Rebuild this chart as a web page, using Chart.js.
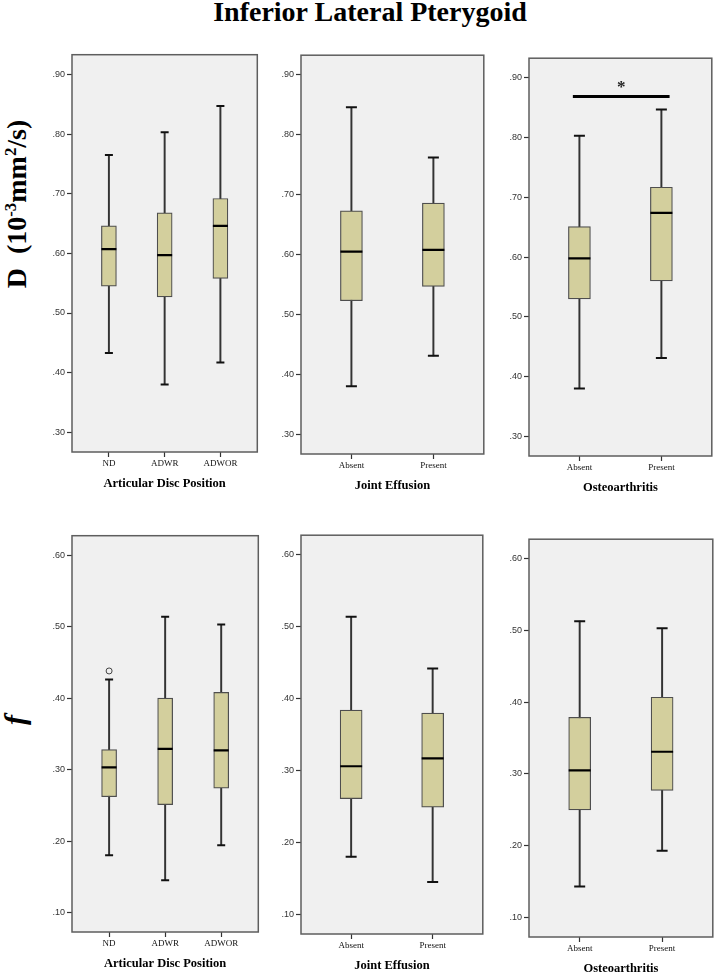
<!DOCTYPE html>
<html>
<head>
<meta charset="utf-8">
<script src="https://cdn.jsdelivr.net/npm/chart.js@4.4.1/dist/chart.umd.min.js"></script>
<style>
    body { margin: 0; background: #fff; width: 726px; height: 975px; position: relative; overflow: hidden; }
    canvas { position: absolute; }
    .title { position: absolute; left: 0; width: 740px; top: -2px; text-align: center; font: bold 28px "Liberation Serif", serif; line-height: 28px; color: #000; }
    .ylab { position: absolute; font-family: "Liberation Serif", serif; font-weight: bold; white-space: nowrap; color: #000; line-height: 1; transform: translate(-50%, -50%) rotate(-90deg); }
    .ylab sup { font-size: 0.6em; vertical-align: 0.6em; line-height: 0; }
</style>
</head>
<body>
<div class="title">Inferior Lateral Pterygoid</div>
<div class="ylab" style="left:17px; top:204px; font-size:28px;">D&nbsp;&nbsp;(10<sup>-3</sup>mm<sup>2</sup>/s)</div>
<div class="ylab" style="left:15px; top:720px; font-size:30px; font-style:italic;">f</div>

<canvas id="dAdp"></canvas>
<canvas id="dJe"></canvas>
<canvas id="dOa"></canvas>
<canvas id="fAdp"></canvas>
<canvas id="fJe"></canvas>
<canvas id="fOa"></canvas>

<script>
'use strict';

// categories
var adpLabels = ['ND', 'ADWR', 'ADWOR'];
var ynLabels = ['Absent', 'Present'];

// tick labels
var dTicks = [0.3, 0.4, 0.5, 0.6, 0.7, 0.8, 0.9];
var fTicks = [0.1, 0.2, 0.3, 0.4, 0.5, 0.6];

// D - articular disc position
var dAdpMin = [0.433, 0.380, 0.417];
var dAdpQ1 = [0.545, 0.527, 0.558];
var dAdpMed = [0.607, 0.597, 0.646];
var dAdpQ3 = [0.646, 0.668, 0.692];
var dAdpMax = [0.765, 0.803, 0.847];

// D - joint effusion
var dJeMin = [0.380, 0.431];
var dJeQ1 = [0.523, 0.547];
var dJeMed = [0.605, 0.608];
var dJeQ3 = [0.673, 0.686];
var dJeMax = [0.846, 0.762];

// D - osteoarthritis
var dOaMin = [0.380, 0.431];
var dOaQ1 = [0.530, 0.560];
var dOaMed = [0.598, 0.674];
var dOaQ3 = [0.651, 0.717];
var dOaMax = [0.803, 0.847];
var dOaSigSpan = [-0.08, 1.10];
var dOaSigLevel = 0.869;
var dOaStarLevel = 0.889;

// f - articular disc position
var fAdpMin = [0.180, 0.145, 0.194];
var fAdpQ1 = [0.262, 0.251, 0.274];
var fAdpMed = [0.303, 0.329, 0.327];
var fAdpQ3 = [0.328, 0.400, 0.408];
var fAdpMax = [0.426, 0.514, 0.503];
var fAdpOutlierCat = [0];
var fAdpOutlierVal = [0.438];

// f - joint effusion
var fJeMin = [0.180, 0.145];
var fJeQ1 = [0.261, 0.249];
var fJeMed = [0.306, 0.317];
var fJeQ3 = [0.384, 0.380];
var fJeMax = [0.514, 0.442];

// f - osteoarthritis
var fOaMin = [0.143, 0.193];
var fOaQ1 = [0.250, 0.277];
var fOaMed = [0.305, 0.331];
var fOaQ3 = [0.379, 0.407];
var fOaMax = [0.513, 0.503];

var framePlugin = {
    id: 'panelFrame',
    beforeDatasetsDraw: function (chart) {
        var ctx = chart.ctx, a = chart.chartArea;
        ctx.save();
        ctx.fillStyle = '#f0f0f0';
        ctx.fillRect(a.left, a.top, a.right - a.left, a.bottom - a.top);
        ctx.restore();
    },
    afterDatasetsDraw: function (chart) {
        var ctx = chart.ctx, a = chart.chartArea;
        ctx.save();
        ctx.strokeStyle = '#5e5e5e';
        ctx.lineWidth = 1.5;
        ctx.strokeRect(a.left, a.top, a.right - a.left, a.bottom - a.top);
        ctx.restore();
    }
};

// significance star, placed through the chart's scales
var starPlugin = {
    id: 'sigStar',
    afterDatasetsDraw: function (chart, args, opts) {
        if (!opts || !opts.text) return;
        var ctx = chart.ctx;
        var x = chart.scales.x.getPixelForValue((opts.span[0] + opts.span[1]) / 2);
        var y = chart.scales.y.getPixelForValue(opts.level);
        ctx.save();
        ctx.font = 'bold 17px "Liberation Serif"';
        ctx.fillStyle = '#222';
        ctx.textAlign = 'center';
        ctx.textBaseline = 'middle';
        ctx.fillText(opts.text, x, y + 3);
        ctx.restore();
    }
};

var makePanel = function (id, frame, p) {
    var yw = 50, pt = 6, pr = 2, xh = 39;
    var cv = document.getElementById(id);
    cv.width = frame[2] - frame[0] + yw + pr;
    cv.height = frame[3] - frame[1] + pt + xh;
    cv.style.left = (frame[0] - yw) + 'px';
    cv.style.top = (frame[1] - pt) + 'px';

    var cats = p.labels.map(function (l, i) { return i; });
    var wide = p.labels.length === 2;
    var boxW = wide ? 22 : 15;
    var capW = wide ? 11 : 8;
    var margin = wide ? 0.615 : 0.662;

    var datasets = [
        {
            type: 'line', label: 'median', order: 1, showLine: false,
            data: cats.map(function (i) { return { x: i, y: p.med[i] }; }),
            pointStyle: 'line', pointRadius: boxW / 2, pointBorderWidth: 2.2, pointBorderColor: '#000'
        },
        {
            type: 'line', label: 'caps', order: 2, showLine: false,
            data: cats.reduce(function (acc, i) {
                return acc.concat([{ x: i, y: p.min[i] }, { x: i, y: p.max[i] }]);
            }, []),
            pointStyle: 'line', pointRadius: capW / 2, pointBorderWidth: 2, pointBorderColor: '#111'
        },
        {
            type: 'bar', label: 'box', order: 4, grouped: false,
            data: cats.map(function (i) { return { x: i, y: [p.q1[i], p.q3[i]] }; }),
            backgroundColor: '#d3cf9d', borderColor: '#4e4e4e', borderWidth: 1.2,
            borderSkipped: false, barThickness: boxW
        },
        {
            type: 'bar', label: 'whisker', order: 5, grouped: false,
            data: cats.map(function (i) { return { x: i, y: [p.min[i], p.max[i]] }; }),
            backgroundColor: '#333', borderWidth: 0, barThickness: 1.3
        }
    ];

    if (p.outCat) {
        datasets.push({
            type: 'line', label: 'outliers', order: 3, showLine: false,
            data: p.outCat.map(function (c, k) { return { x: c, y: p.outVal[k] }; }),
            pointStyle: 'circle', pointRadius: 3, pointBorderWidth: 1,
            pointBorderColor: '#444', pointBackgroundColor: 'rgba(0,0,0,0)'
        });
    }
    if (p.sigSpan) {
        datasets.push({
            type: 'line', label: 'sig', order: 0,
            data: p.sigSpan.map(function (x) { return { x: x, y: p.sigLevel }; }),
            borderColor: '#000', borderWidth: 3, pointRadius: 0
        });
    }

    return new Chart(cv.getContext('2d'), {
        type: 'bar',
        data: { datasets: datasets },
        plugins: [framePlugin, starPlugin],
        options: {
            responsive: false,
            animation: false,
            events: [],
            layout: { padding: { left: 0, top: pt, right: pr, bottom: 0 } },
            plugins: {
                legend: { display: false },
                tooltip: { enabled: false },
                sigStar: p.sigSpan ? { text: '*', span: p.sigSpan, level: p.starLevel } : {}
            },
            scales: {
                x: {
                    type: 'linear', min: -margin, max: cats.length - 1 + margin, offset: false,
                    afterBuildTicks: function (s) { s.ticks = cats.map(function (v) { return { value: v }; }); },
                    afterFit: function (s) { s.height = xh; },
                    ticks: {
                        callback: function (v) { return p.labels[v]; },
                        font: { family: 'Liberation Serif', size: 9 }, color: '#111',
                        padding: 1, maxRotation: 0, autoSkip: false
                    },
                    grid: { display: true, drawOnChartArea: false, drawTicks: true, tickLength: 5, tickWidth: 1.2, color: '#333', offset: false },
                    border: { display: false },
                    title: {
                        display: true, text: p.title, color: '#000',
                        font: { family: 'Liberation Serif', size: 12.5, weight: 'bold' },
                        padding: { top: 0, bottom: 0 }
                    }
                },
                y: {
                    min: p.yMin, max: p.yMax,
                    afterBuildTicks: function (s) { s.ticks = p.ticks.map(function (v) { return { value: v }; }); },
                    afterFit: function (s) { s.width = yw; },
                    ticks: {
                        callback: function (v) { return v.toFixed(2).slice(1); },
                        font: { family: 'Liberation Sans', size: 9 }, color: '#333', padding: 2
                    },
                    grid: { display: true, drawOnChartArea: false, drawTicks: true, tickLength: 5, tickWidth: 1.2, color: '#333' },
                    border: { display: false }
                }
            }
        }
    });
};

var dRange = [0.267, 0.933];
var fRange = [0.0727, 0.6273];

makePanel('dAdp', [72, 51, 265, 452], {
    labels: adpLabels, title: 'Articular Disc Position', ticks: dTicks, yMin: dRange[0], yMax: dRange[1],
    min: dAdpMin, q1: dAdpQ1, med: dAdpMed, q3: dAdpQ3, max: dAdpMax
});
makePanel('dJe', [301, 48, 495, 454], {
    labels: ynLabels, title: 'Joint Effusion', ticks: dTicks, yMin: dRange[0], yMax: dRange[1],
    min: dJeMin, q1: dJeQ1, med: dJeMed, q3: dJeQ3, max: dJeMax
});
makePanel('dOa', [529, 51, 723, 456], {
    labels: ynLabels, title: 'Osteoarthritis', ticks: dTicks, yMin: dRange[0], yMax: dRange[1],
    min: dOaMin, q1: dOaQ1, med: dOaMed, q3: dOaQ3, max: dOaMax,
    sigSpan: dOaSigSpan, sigLevel: dOaSigLevel, starLevel: dOaStarLevel
});
makePanel('fAdp', [72, 532, 266, 932], {
    labels: adpLabels, title: 'Articular Disc Position', ticks: fTicks, yMin: fRange[0], yMax: fRange[1],
    min: fAdpMin, q1: fAdpQ1, med: fAdpMed, q3: fAdpQ3, max: fAdpMax,
    outCat: fAdpOutlierCat, outVal: fAdpOutlierVal
});
makePanel('fJe', [301, 528, 494, 934], {
    labels: ynLabels, title: 'Joint Effusion', ticks: fTicks, yMin: fRange[0], yMax: fRange[1],
    min: fJeMin, q1: fJeQ1, med: fJeMed, q3: fJeQ3, max: fJeMax
});
makePanel('fOa', [529, 532, 724, 937], {
    labels: ynLabels, title: 'Osteoarthritis', ticks: fTicks, yMin: fRange[0], yMax: fRange[1],
    min: fOaMin, q1: fOaQ1, med: fOaMed, q3: fOaQ3, max: fOaMax
});
</script>
</body>
</html>
